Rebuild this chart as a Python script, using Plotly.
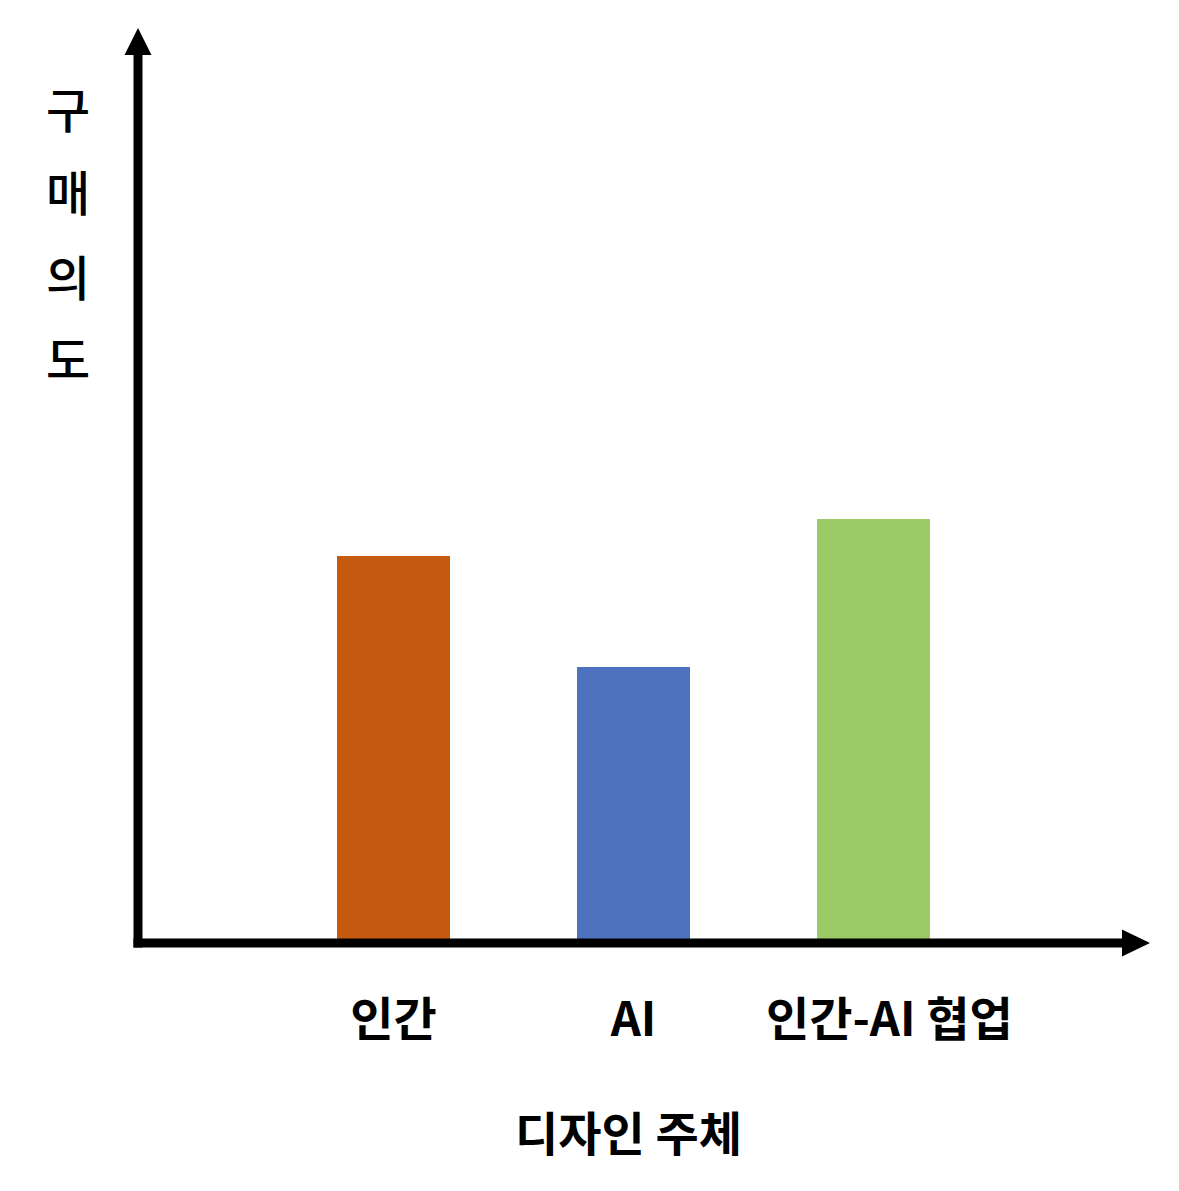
import plotly.graph_objects as go

categories = ["인간", "AI", "인간-AI 협업"]
values = [4.23, 3.02, 4.63]
colors = ["#C55A11", "#4E72BE", "#9BCA67"]
x_title = "디자인 주체"
y_title_chars = ["구", "매", "의", "도"]

OFF = 8  # page body margin
W, H = 1179 - OFF, 1191 - OFF
L, T = 138 - OFF, 28 - OFF
PW, PH = 1012, 915
R, B = W - L - PW, H - T - PH
BASE = 943  # reference pixel of baseline

positions = list(range(len(categories)))

fig = go.Figure()
fig.add_trace(go.Bar(
    x=positions, y=values, marker=dict(color=colors, line=dict(width=0)),
    width=113 / 240, showlegend=False, hoverinfo="skip",
))

x_left = -255.5 / 240
x_right = x_left + PW / 240

def px_x(p):
    return p / PW

def px_y(p):
    return p / PH

lw = 9
shapes = [
    dict(type="line", xref="paper", yref="paper", x0=px_x(-4.5), x1=px_x(PW - 26), y0=0, y1=0,
         line=dict(color="black", width=lw), layer="above"),
    dict(type="path", xref="paper", yref="paper",
         path=f"M {px_x(PW - 28)} {px_y(-13.5)} L 1 0 L {px_x(PW - 28)} {px_y(13.5)} Z",
         fillcolor="black", line=dict(width=0), layer="above"),
    dict(type="line", xref="paper", yref="paper", x0=0, x1=0, y0=px_y(-4.5), y1=px_y(PH - 25),
         line=dict(color="black", width=lw), layer="above"),
    dict(type="path", xref="paper", yref="paper",
         path=f"M {px_x(-13.5)} {px_y(PH - 27)} L 0 1 L {px_x(13.5)} {px_y(PH - 27)} Z",
         fillcolor="black", line=dict(width=0), layer="above"),
]

annotations = [
    dict(text=f"<b>{x_title}</b>", xref="paper", yref="paper",
         x=px_x(628 - 138), y=px_y(-(1130 - BASE)), xanchor="center", yanchor="middle",
         showarrow=False, font=dict(size=47, color="black", family="Noto Sans CJK KR")),
]
y_centers = [107, 190, 275, 357]
for ch, yc in zip(y_title_chars, y_centers):
    annotations.append(dict(
        text=ch, xref="paper", yref="paper", x=px_x(68 - 138), y=px_y(BASE - yc),
        xanchor="center", yanchor="middle", showarrow=False,
        font=dict(size=48, color="black", family="Noto Sans CJK KR", weight=500),
    ))

ticktext = [f"<b>{c}</b>" for c in categories]
ticktext[2] = "&nbsp;&nbsp;&nbsp;" + ticktext[2]

fig.update_layout(
    width=W, height=H,
    margin=dict(l=L, r=R, t=T, b=B, pad=0),
    paper_bgcolor="white", plot_bgcolor="white",
    bargap=0,
    xaxis=dict(range=[x_left, x_right], tickvals=positions,
               ticktext=ticktext,
               showgrid=False, zeroline=False, showline=False, ticks="",
               ticklabelstandoff=45,
               tickfont=dict(size=47, color="black", family="Noto Sans CJK KR")),
    yaxis=dict(range=[0, 10], showgrid=False, zeroline=False, showline=False,
               showticklabels=False, ticks=""),
    shapes=shapes, annotations=annotations,
)

fig.write_html("out.html")
